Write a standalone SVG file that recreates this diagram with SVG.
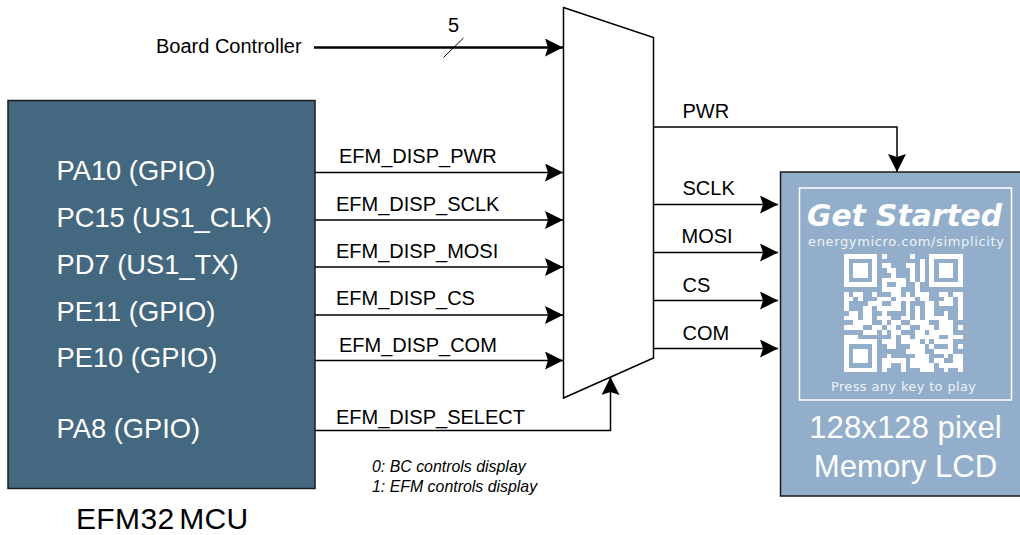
<svg xmlns="http://www.w3.org/2000/svg" width="1020" height="535" viewBox="0 0 1020 535">
<style>
text{font-family:"Liberation Sans",Arial,sans-serif;fill:#000}
.pin{font-size:27.300px;fill:#fff}
.sig{font-size:20px}
.note{font-size:15.900px;font-style:italic}
.lcd{font-size:31.200px;fill:#fff;text-anchor:middle}
.w{stroke:#000;stroke-width:1.5;fill:none}
.box{stroke:#1c1c1c;stroke-width:1.5}
.qrt{fill:#fff}
</style>
<defs>
<marker id="a" markerUnits="userSpaceOnUse" markerWidth="18" markerHeight="18" refX="18" refY="9" orient="auto"><path d="M0 0L18 9L0 18L3 9Z" fill="#000"/></marker>
</defs>
<rect width="1020" height="535" fill="#fff"/>
<g id="connectors">
<path class="w" style="stroke-width:2.5" d="M314 47.500H563" marker-end="url(#a)"/>
<path d="M443.500 57.500L463.500 38" stroke="#000" stroke-width="1" fill="none"/>
<path class="w" d="M315 172.500H563" marker-end="url(#a)"/>
<path class="w" d="M315 220H563" marker-end="url(#a)"/>
<path class="w" d="M315 267H563" marker-end="url(#a)"/>
<path class="w" d="M315 315H563" marker-end="url(#a)"/>
<path class="w" d="M315 360.500H563" marker-end="url(#a)"/>
<path class="w" d="M315 430.500H610.500V377" marker-end="url(#a)"/>
<path class="w" d="M653 127H897V172" marker-end="url(#a)"/>
<path class="w" d="M653 204.500H778" marker-end="url(#a)"/>
<path class="w" d="M653 252.500H778" marker-end="url(#a)"/>
<path class="w" d="M653 300.500H778" marker-end="url(#a)"/>
<path class="w" d="M653 348.500H778" marker-end="url(#a)"/>
</g>
<g id="mux"><path d="M563.500 7.500L653.500 37.500V358L563.500 398Z" fill="#fff" stroke="#000" stroke-width="1.500"/></g>
<g id="mcu">
<rect class="box" x="8" y="100.500" width="307" height="388" fill="#44687f"/>
<text class="pin" x="56.500" y="180">PA10 (GPIO)</text>
<text class="pin" x="56.500" y="227">PC15 (US1_CLK)</text>
<text class="pin" x="56.500" y="274">PD7 (US1_TX)</text>
<text class="pin" x="56.500" y="321">PE11 (GPIO)</text>
<text class="pin" x="56.500" y="367">PE10 (GPIO)</text>
<text class="pin" x="56.500" y="438">PA8 (GPIO)</text>
<text x="76" y="529" font-size="30" word-spacing="-4" letter-spacing=".35">EFM32 MCU</text>
</g>
<g id="labels">
<text class="sig" x="156" y="53">Board Controller</text>
<text class="sig" x="448" y="32">5</text>
<text class="sig" x="339" y="163">EFM_DISP_PWR</text>
<text class="sig" x="336" y="211">EFM_DISP_SCLK</text>
<text class="sig" x="336" y="258">EFM_DISP_MOSI</text>
<text class="sig" x="336" y="305">EFM_DISP_CS</text>
<text class="sig" x="339" y="352">EFM_DISP_COM</text>
<text class="sig" x="336" y="424">EFM_DISP_SELECT</text>
<text class="note" x="372" y="472">0: BC controls display</text>
<text class="note" x="372" y="492">1: EFM controls display</text>
<text class="sig" x="682.500" y="118">PWR</text>
<text class="sig" x="682.500" y="195">SCLK</text>
<text class="sig" x="681.500" y="243">MOSI</text>
<text class="sig" x="682.500" y="292">CS</text>
<text class="sig" x="682.500" y="340">COM</text>
</g>
<g id="lcd">
<rect class="box" x="780.500" y="172" width="250" height="324" fill="#92aecb"/>
<rect x="799.500" y="188" width="212" height="212" fill="none" stroke="#fff" stroke-width="1.500"/>
<text class="qrt" x="807" y="226" font-size="30" font-weight="bold" font-style="italic" textLength="195" lengthAdjust="spacingAndGlyphs" style="font-family:'DejaVu Sans',sans-serif">Get Started</text>
<text class="qrt" x="808" y="246" font-size="13" textLength="196" opacity=".85" style="font-family:'DejaVu Sans',sans-serif">energymicro.com/simplicity</text>
<text class="qrt" x="831" y="391" font-size="13" textLength="145" opacity=".85" style="font-family:'DejaVu Sans',sans-serif">Press any key to play</text>
<path fill="#fff" transform="translate(844 254) scale(4.740)" shape-rendering="crispEdges" d="M0 0h7v7h-7zM1 1v5h5v-5zM2 2h3v3h-3zM18 0h7v7h-7zM19 1v5h5v-5zM20 2h3v3h-3zM0 18h7v7h-7zM1 19v5h5v-5zM2 20h3v3h-3z
M8 0h1v1h-1zM14 0h1v1h-1zM16 1h1v5h-1zM8 2h2v1h-2zM9 3h2v1h-2zM13 2h2v1h-2zM14 3h1v3h-1zM10 4h1v2h-1zM8 5h1v3h-1zM9 5h1v1h-1zM11 5h1v3h-1zM12 5h1v2h-1zM15 6h1v2h-1zM9 7h2v1h-2zM10 8h2v1h-2z
M0 8h1v1h-1zM2 8h2v1h-2zM6 8h1v1h-1zM7 9h3v1h-3zM13 8h1v1h-1zM15 8h3v1h-3zM20 8h2v1h-2zM23 8h2v1h-2zM0 9h2v1h-2zM3 9h1v1h-1zM11 9h4v1h-4zM16 9h2v1h-2zM21 9h2v2h-2zM24 9h1v5h-1z
M0 10h1v2h-1zM5 10h3v1h-3zM10 10h2v2h-2zM13 10h1v3h-1zM17 10h2v3h-2zM4 11h2v3h-2zM7 11h3v1h-3zM1 12h2v1h-2zM8 12h1v1h-1zM15 11h1v2h-1zM20 10h1v1h-1zM21 12h1v1h-1z
M0 13h3v1h-3zM7 13h3v1h-3zM12 13h2v1h-2zM15 13h1v1h-1zM17 13h5v1h-5zM2 14h4v1h-4zM8 14h1v2h-1zM10 14h2v1h-2zM14 14h4v1h-4zM20 14h3v3h-3zM0 15h4v1h-4zM6 15h5v1h-5zM12 15h2v1h-2zM16 15h3v1h-3zM24 15h1v1h-1z
M4 16h3v1h-3zM8 16h1v1h-1zM10 16h2v2h-2zM15 16h2v1h-2zM18 16h2v1h-2zM0 17h3v1h-3zM11 17h3v1h-3zM15 17h5v1h-5zM22 17h3v1h-3z
M8 18h3v1h-3zM12 18h4v1h-4zM17 18h1v1h-1zM19 18h4v1h-4zM9 19h2v1h-2zM14 19h3v1h-3zM18 19h1v1h-1zM22 19h1v1h-1zM24 19h1v1h-1zM13 20h4v1h-4zM19 20h4v1h-4z
M9 21h1v1h-1zM15 21h3v2h-3zM21 21h1v1h-1zM23 21h2v1h-2zM8 22h5v1h-5zM14 22h1v1h-1zM19 22h2v1h-2zM23 22h2v1h-2zM8 23h2v1h-2zM12 23h1v1h-1zM14 23h5v1h-5zM20 23h5v1h-5z
M8 24h1v1h-1zM12 24h1v1h-1zM16 24h3v1h-3zM21 24h1v1h-1zM24 24h1v1h-1z" fill-rule="evenodd"/>
<text class="lcd" x="905.500" y="438">128x128 pixel</text>
<text class="lcd" x="905.500" y="477">Memory LCD</text>
</g>
</svg>
